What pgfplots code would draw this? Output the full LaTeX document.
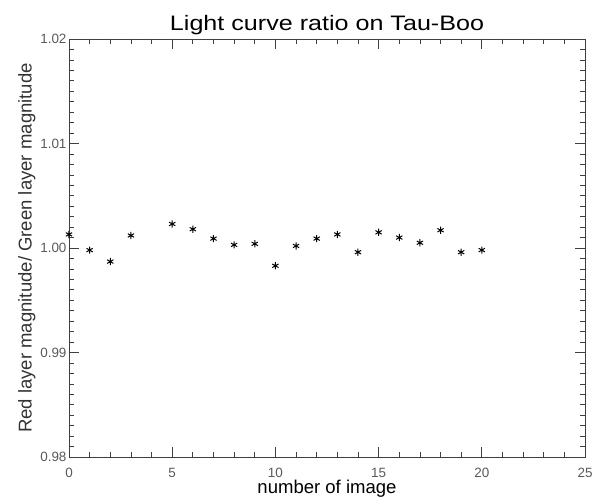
\documentclass[border=0pt]{standalone}
\usepackage{pgfplots}
\pgfplotsset{compat=1.18}
\usepackage{fontspec}
\setmainfont{Liberation Sans}

\begin{document}
\begin{tikzpicture}
\begin{axis}[
  scale only axis,
  width=516bp, height=418bp,
  xmin=0, xmax=25,
  ymin=0.98, ymax=1.02,
  xtick={0,5,10,15,20,25},
  ytick={0.98,0.99,1.00,1.01,1.02},
  minor x tick num=4,
  minor y tick num=9,
  tick align=inside,
  major tick length=10bp,
  minor tick length=5bp,
  axis line style={black!75, line width=0.8pt},
  every tick/.style={black!75, line width=0.7pt},
  /pgf/number format/assume math mode=true,
  ticklabel style={font=\fontsize{13.5}{13.5}\selectfont, text=black!65},
  xticklabel style={inner sep=1bp, yshift=-10bp},
  yticklabel style={xshift=1bp, /pgf/number format/.cd, fixed, fixed zerofill, precision=2},
  title={Light curve ratio on Tau-Boo},
  title style={font=\fontsize{21}{21}\selectfont, xscale=1.2, yshift=-5bp},
  xlabel={number of image},
  ylabel={Red layer magnitude/ Green layer magnitude},
  label style={font=\fontsize{18.6}{18.6}\selectfont},
  xlabel style={at={(rel axis cs:0.5,0)}, anchor=north, inner sep=0pt, yshift=-23bp},
  ylabel style={yshift=-2bp, text=black!80},
]
\addplot[only marks, mark=asterisk, mark size=3.6bp, black, line width=1pt] coordinates {
  (0,1.0013) (1,0.9998) (2,0.9987) (3,1.0012) (5,1.0023) (6,1.0018)
  (7,1.0009) (8,1.0003) (9,1.0004) (10,0.9983) (11,1.0002) (12,1.0009)
  (13,1.0013) (14,0.9996) (15,1.0015) (16,1.0010) (17,1.0005) (18,1.0017)
  (19,0.9996) (20,0.9998)
};
\coordinate (bl) at (rel axis cs:-0.1337,-0.0981);
\coordinate (tr) at (rel axis cs:1.0174,1.0933);
\end{axis}
\pgfresetboundingbox
\path[use as bounding box] (bl) rectangle (tr);
\end{tikzpicture}
\end{document}
